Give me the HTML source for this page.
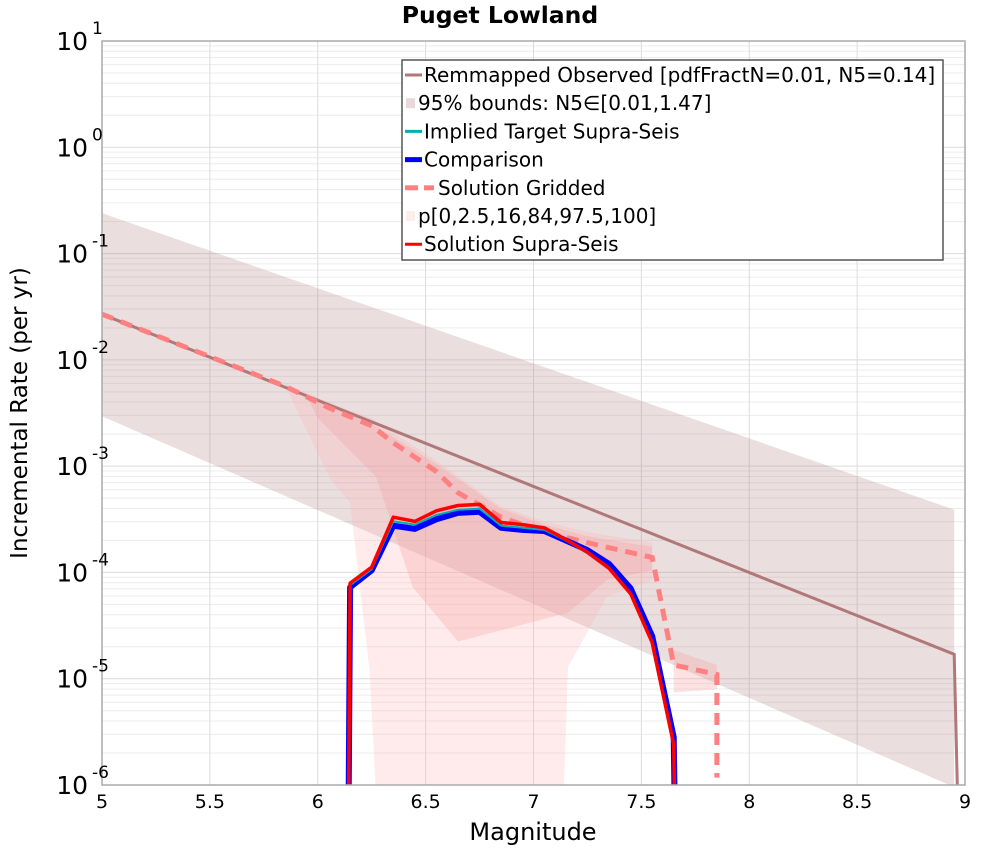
<!DOCTYPE html>
<html><head><meta charset="utf-8"><style>
body{margin:0;background:#fff}
svg{display:block;font-family:"DejaVu Sans","Liberation Sans",sans-serif}
</style></head><body>
<svg id="chart" width="1000" height="850" viewBox="0 0 1000 850"></svg>
<script>
// ---- data (log10 of incremental rate) ----
const obsM = [5.0, 8.95];
const obsLog = [-1.57, -4.77];
const bnd95M = [5.0, 8.95];
const bnd95Up = [-0.62, -3.41];
const bnd95Lo = [-2.53, -6.02];
const suprM = [6.14, 6.15, 6.25, 6.35, 6.45, 6.55, 6.65, 6.75, 6.85, 6.95, 7.05, 7.15, 7.25, 7.35, 7.45, 7.55, 7.65, 7.66];
const solLog = [-7, -4.10, -3.95, -3.48, -3.52, -3.42, -3.37, -3.36, -3.53, -3.55, -3.58, -3.69, -3.81, -3.96, -4.20, -4.66, -5.62, -7];
const cmpLog = [-7, -4.14, -3.98, -3.56, -3.59, -3.50, -3.44, -3.43, -3.58, -3.60, -3.61, -3.70, -3.79, -3.92, -4.15, -4.60, -5.55, -7];
const tgtLog = [-7, -4.12, -3.97, -3.52, -3.55, -3.46, -3.41, -3.40, -3.56, -3.58, -3.60, -3.70, -3.82, -3.97, -4.21, -4.66, -5.60, -7];
const gridM = [5.0, 5.85, 6.05, 6.25, 6.35, 6.55, 6.65, 6.85, 7.05, 7.25, 7.55, 7.65, 7.85, 7.85];
const gridLog = [-1.57, -2.25, -2.45, -2.62, -2.78, -3.05, -3.25, -3.48, -3.62, -3.72, -3.86, -4.87, -4.96, -5.93];
const pOutM = [5.85, 6.05, 6.25, 6.55, 6.85, 7.05, 7.25, 7.55, 7.55, 7.34, 7.16, 7.14, 6.27, 6.24, 6.15, 6.06, 5.85];
const pOutLog = [-2.22, -2.40, -2.55, -2.95, -3.38, -3.52, -3.62, -3.72, -4.07, -4.23, -4.89, -6.1, -6.1, -4.92, -3.34, -3.13, -2.25];
const pInM = [5.95, 6.25, 6.55, 6.85, 7.05, 7.25, 7.55, 7.55, 7.34, 7.16, 6.65, 6.44, 6.27, 6.0];
const pInLog = [-2.35, -2.60, -2.98, -3.40, -3.55, -3.66, -3.76, -3.98, -4.07, -4.38, -4.65, -4.14, -3.10, -2.55];
const pTailM = [7.65, 7.85, 7.85, 7.65];
const pTailLog = [-4.73, -4.87, -5.10, -5.13];
const xTicks = [5, 5.5, 6, 6.5, 7, 7.5, 8, 8.5, 9];
const xTickLabels = ["5","5.5","6","6.5","7","7.5","8","8.5","9"];
const yTicks = [1, 0, -1, -2, -3, -4, -5, -6];
const yTickLabels = ["1","0","-1","-2","-3","-4","-5","-6"];

const L=102,R=965,T=41,B=785;
const xs=m=>L+(m-5)/(9-5)*(R-L);
const ys=v=>T+(1-v)/7*(B-T);
const svg=document.getElementById('chart');
const NS='http://www.w3.org/2000/svg';
function mk(tag,attrs,parent){const e=document.createElementNS(NS,tag);for(const k in attrs)e.setAttribute(k,attrs[k]);(parent||svg).appendChild(e);return e;}
const defs=mk('defs',{});
const cp=mk('clipPath',{id:'clip'},defs);mk('rect',{x:L,y:T,width:R-L,height:B-T},cp);

// grid
const grid=mk('g',{});


for(let d=-6;d<1;d++){for(let k=2;k<=9;k++){const y=ys(d+Math.log10(k));mk('line',{x1:L,x2:R,y1:y,y2:y,stroke:'#ececec','stroke-width':1},grid);}}
yTicks.forEach(v=>mk('line',{x1:L,x2:R,y1:ys(v),y2:ys(v),stroke:'#dcdcdc','stroke-width':1},grid));
xTicks.forEach(m=>mk('line',{x1:xs(m),x2:xs(m),y1:T,y2:B,stroke:'#dcdcdc','stroke-width':1},grid));

const plot=mk('g',{'clip-path':'url(#clip)'});
function poly(M,V){return M.map((m,i)=>xs(m).toFixed(1)+','+ys(V[i]).toFixed(1)).join(' ');}
function band(M,U,Lo){return M.map((m,i)=>xs(m)+','+ys(U[i])).concat(M.slice().reverse().map((m,i)=>xs(m)+','+ys(Lo[Lo.length-1-i]))).join(' ');}
let e;
e=mk('polygon',{points:band(bnd95M,bnd95Up,bnd95Lo),fill:'#b07a7f','fill-opacity':0.25},plot);


e=mk('polygon',{points:poly(pOutM,pOutLog),fill:'#ffb0b0','fill-opacity':0.25},plot);


e=mk('polygon',{points:poly(pInM,pInLog),fill:'#f5a0a0','fill-opacity':0.3},plot);


e=mk('polygon',{points:poly(pTailM,pTailLog),fill:'#f5a0a0','fill-opacity':0.3},plot);


e=mk('polyline',{points:poly(obsM,obsLog)+' '+xs(8.97)+','+ys(-6.5),fill:'none',stroke:'#b07878','stroke-width':3},plot);


e=mk('polyline',{points:poly(gridM,gridLog),fill:'none',stroke:'#ff8080','stroke-width':5,'stroke-dasharray':'12,8'},plot);


e=mk('polyline',{points:poly(suprM,cmpLog),fill:'none',stroke:'#0000ff','stroke-width':6,'stroke-linejoin':'round'},plot);


e=mk('polyline',{points:poly(suprM,tgtLog),fill:'none',stroke:'#00b0b0','stroke-width':2},plot);


e=mk('polyline',{points:poly(suprM,solLog),fill:'none',stroke:'#ff0000','stroke-width':3.5,'stroke-linejoin':'round'},plot);



e=mk('rect',{x:L,y:T,width:R-L,height:B-T,fill:'none',stroke:'#aaaaaa','stroke-width':1.5});



// ticks
xTicks.forEach((m,i)=>{const t=mk('text',{x:xs(m),y:808,'font-size':19,'text-anchor':'middle',fill:'#000'});t.textContent=xTickLabels[i];

});
yTicks.forEach((v,i)=>{const t=mk('text',{x:88,y:ys(v)+9,'font-size':25,'text-anchor':'end',fill:'#000'});t.textContent='10';


const s=mk('text',{x:92,y:ys(v)-7,'font-size':17,fill:'#000'});s.textContent=yTickLabels[i];

});

// legend
const lg=mk('g',{});


mk('rect',{x:402,y:60,width:541,height:200,fill:'#fff',stroke:'#555','stroke-width':1.5},lg);
const items=[
 ['Remmapped Observed [pdfFractN=0.01, N5=0.14]','line','#b07878',3],
 ['95% bounds: N5∈[0.01,1.47]','box','#e8d8da',0],
 ['Implied Target Supra-Seis','line','#00b0b0',3],
 ['Comparison','line','#0000ff',5],
 ['Solution Gridded','dash','#ff8080',5],
 ['p[0,2.5,16,84,97.5,100]','box','#fdeded',0],
 ['Solution Supra-Seis','line','#ff0000',3]];
items.forEach((it,i)=>{const y=75+i*28.2;const g=mk('g',{},lg);
 
 
 if(it[1]==='line')mk('line',{x1:405,x2:422,y1:y,y2:y,stroke:it[2],'stroke-width':it[3]},g);
 else if(it[1]==='box')mk('rect',{x:406,y:y-5,width:9,height:10,fill:it[2]},g);
 else{mk('line',{x1:405,x2:418,y1:y,y2:y,stroke:it[2],'stroke-width':5},g);mk('line',{x1:424,x2:434,y1:y,y2:y,stroke:it[2],'stroke-width':5},g);}
 const tx=it[1]==='dash'?438:(it[1]==='box'?418:424);
 const t=mk('text',{x:tx,y:y+7,'font-size':20,fill:'#000'},g);t.textContent=it[0];});

// titles
e=mk('text',{x:500,y:23,'font-size':23.5,'font-weight':'bold','text-anchor':'middle'});e.textContent='Puget Lowland';


e=mk('text',{x:533,y:840,'font-size':24,'text-anchor':'middle'});e.textContent='Magnitude';


e=mk('text',{x:0,y:0,'font-size':23,'text-anchor':'middle',transform:'translate(27,413) rotate(-90)'});e.textContent='Incremental Rate (per yr)';


</script>
</body></html>
